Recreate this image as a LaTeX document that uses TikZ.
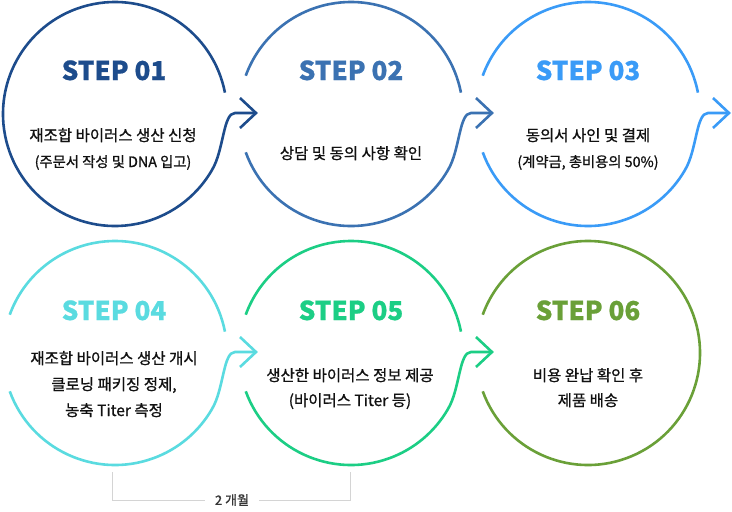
\documentclass[tikz,border=0pt]{standalone}
\usepackage{fontspec}
\newfontfamily\kr[BoldFont={Noto Sans CJK KR}, BoldFeatures={FakeBold=0.9}]{Noto Sans CJK KR}
\newfontfamily\krstep[BoldFeatures={FakeBold=0.7}]{Noto Sans CJK KR}
\usetikzlibrary{calc}
\definecolor{colA}{HTML}{1D4C8C}
\definecolor{colB}{HTML}{3B72B2}
\definecolor{colC}{HTML}{3A9BF7}
\definecolor{colD}{HTML}{5ADBE0}
\definecolor{colE}{HTML}{1CCE85}
\definecolor{colF}{HTML}{6AA038}
\definecolor{txt}{HTML}{111111}
\definecolor{brk}{HTML}{D4D4D4}
\tikzset{
  ring/.style={line width=2.6pt, line cap=butt},
  chev/.style={line width=2.6pt, line cap=butt, line join=miter},
  steplabel/.style={font=\krstep\bfseries\fontsize{26}{26}\selectfont, anchor=base, inner sep=0pt},
  desc/.style={font=\kr\bfseries\fontsize{15.5}{18}\selectfont, text=txt, anchor=base, inner sep=0pt},
  descs/.style={font=\kr\bfseries\fontsize{14.3}{17}\selectfont, text=txt, anchor=base, inner sep=0pt},
  bracket/.style={draw=brk, line width=1pt},
}
\newcommand\ringtop[2]{%
  \draw[ring,#2] ($(#1)+(11:112)$) arc[start angle=11,end angle=160,radius=112];}
\newcommand\ringarrow[3]{% coordinate, colour, start angle of lower arc
  \draw[ring,#2] ($(#1)+(#3:112)$) arc[start angle=#3,end angle=330,radius=112]
    .. controls ($(#1)+(109,-36)$) and ($(#1)+(108,1)$) .. ($(#1)+(120,1)$) -- ($(#1)+(140,1)$);
  \draw[chev,#2] ($(#1)+(125,16)$) -- ($(#1)+(141,1)$) -- ($(#1)+(125,-14)$);}
\begin{document}
\begin{tikzpicture}[x=1pt,y=1pt]
\useasboundingbox (0,0) rectangle (732,-512);
\fill[white] (0,0) rectangle (732,-512);
\coordinate (c1) at (115,-114);
\coordinate (c2) at (351,-114);
\coordinate (c3) at (588,-114);
\coordinate (c4) at (115,-353);
\coordinate (c5) at (351,-353);
\coordinate (c6) at (588,-353);

% circle 1 (closed on the left)
\draw[ring,colA] ($(c1)+(11:112)$) arc[start angle=11,end angle=330,radius=112]
    .. controls ($(c1)+(109,-36)$) and ($(c1)+(108,1)$) .. ($(c1)+(120,1)$) -- ($(c1)+(140,1)$);
\draw[chev,colA] ($(c1)+(125,16)$) -- ($(c1)+(141,1)$) -- ($(c1)+(125,-14)$);

\ringtop{c2}{colB}\ringarrow{c2}{colB}{200}
\ringtop{c3}{colC}\ringarrow{c3}{colC}{200}
\ringtop{c4}{colD}\ringarrow{c4}{colD}{200}
\ringtop{c5}{colE}\ringarrow{c5}{colE}{200}
\draw[ring,colF] ($(c6)+(200:112)$) arc[start angle=200,end angle=520,radius=112];

% labels
\node[steplabel,text=colA] (s1) at (114,-80) {STEP 01};
\node[steplabel,text=colB] (s2) at (351,-80) {STEP 02};
\node[steplabel,text=colC] (s3) at (588,-80) {STEP 03};
\node[steplabel,text=colD] (s4) at (114,-320) {STEP 04};
\node[steplabel,text=colE] (s5) at (351,-320) {STEP 05};
\node[steplabel,text=colF] (s6) at (588,-320) {STEP 06};

\node[desc] (d1a) at (113,-141) {재조합 바이러스 생산 신청};
\node[descs] (d1b) at (113,-167) {(주문서 작성 및 DNA 입고)};
\node[desc] (d2a) at (351,-159) {상담 및 동의 사항 확인};
\node[desc] (d3a) at (588,-141) {동의서 사인 및 결제};
\node[descs] (d3b) at (588,-167) {(계약금, 총비용의 50\%)};
\node[desc] (d4a) at (114,-364) {재조합 바이러스 생산 개시};
\node[desc] (d4b) at (114,-390) {클로닝 패키징 정제,};
\node[desc] (d4c) at (114,-416) {농축 Titer 측정};
\node[desc] (d5a) at (350,-381) {생산한 바이러스 정보 제공};
\node[desc] (d5b) at (350,-406) {(바이러스 Titer 등)};
\node[desc] (d6a) at (588,-381) {비용 완납 확인 후};
\node[desc] (d6b) at (588,-406) {제품 배송};

% duration bracket
\coordinate (bL) at (112,-472);
\coordinate (bR) at (350,-472);
\node[font=\kr\bfseries\fontsize{13}{16}\selectfont, text=txt!85, inner sep=0pt] (dur) at (232,-500) {2 개월};
\draw[bracket] (bL) |- ($(dur.west)+(-10,0)$);
\draw[bracket] (bR) |- ($(dur.east)+(10,0)$);
\end{tikzpicture}
\end{document}
